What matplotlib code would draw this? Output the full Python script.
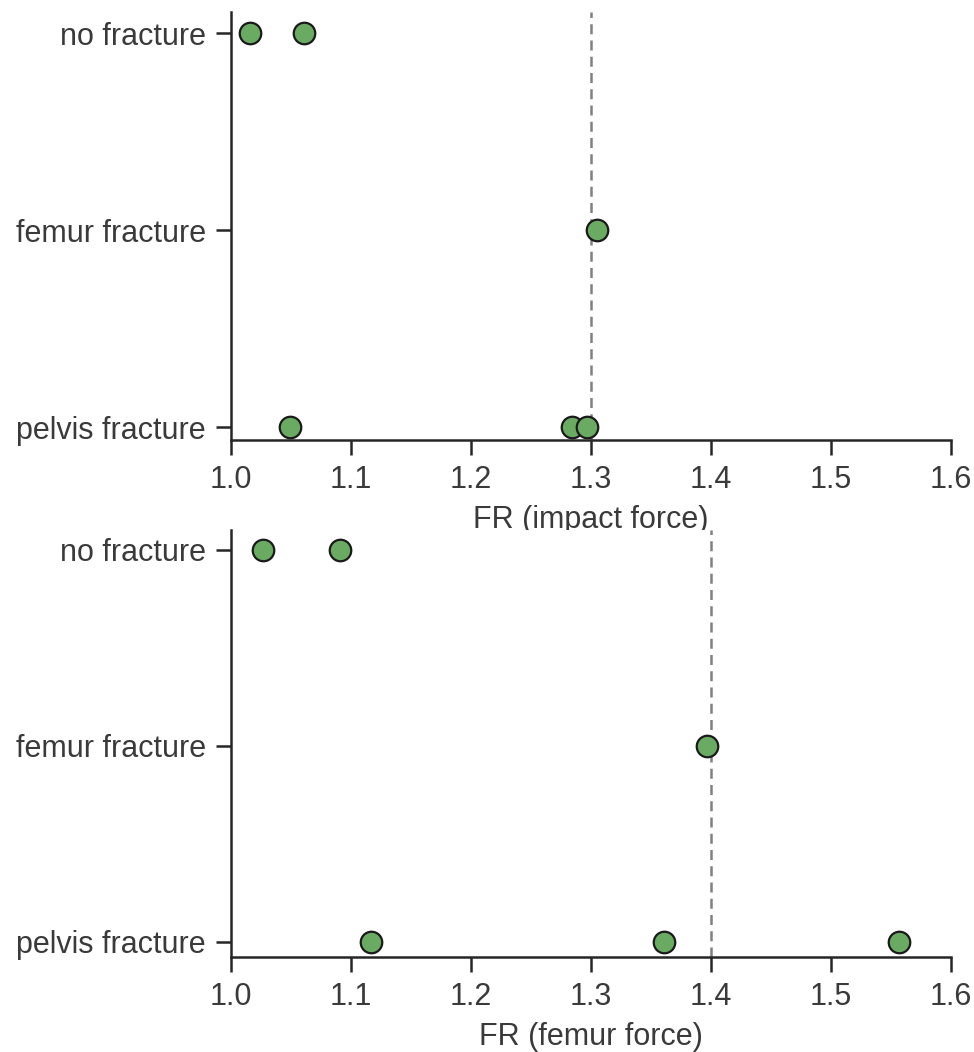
import matplotlib
matplotlib.use("Agg")
import matplotlib.pyplot as plt
import seaborn as sns

sns.set_style("ticks")
plt.rcParams['font.family'] = ['Liberation Sans', 'DejaVu Sans']

categories = ["no fracture", "femur fracture", "pelvis fracture"]

impact_cat = ["no fracture", "no fracture", "femur fracture",
              "pelvis fracture", "pelvis fracture", "pelvis fracture"]
impact_fr = [1.016, 1.061, 1.305, 1.049, 1.284, 1.297]
impact_threshold = 1.30

femur_cat = ["no fracture", "no fracture", "femur fracture",
             "pelvis fracture", "pelvis fracture", "pelvis fracture"]
femur_fr = [1.027, 1.091, 1.397, 1.117, 1.361, 1.557]
femur_threshold = 1.40

xticks = [1.0, 1.1, 1.2, 1.3, 1.4, 1.5, 1.6]

fig = plt.figure(figsize=(9.74, 10.52), dpi=100)
ax1 = fig.add_axes([0.237, 0.5817, 0.739, 0.4069])
ax2 = fig.add_axes([0.237, 0.0903, 0.739, 0.4059])

fs = 22
green = "#6aaa62"
txtc = "#3a3a3a"

def panel(ax, cats, vals, thr, xlabel, ylim):
    ypos = [categories.index(c) for c in cats]
    ax.axvline(thr, color="#808080", linestyle=(0, (4, 2.5)), linewidth=1.8, zorder=1)
    ax.plot(vals, ypos, linestyle="none", marker="o", markersize=15.5,
            markerfacecolor=green, markeredgecolor="#1a1a1a", markeredgewidth=1.6,
            zorder=3, clip_on=False)
    ax.set_yticks(range(len(categories)))
    ax.set_yticklabels(categories)
    ax.set_ylim(*ylim)
    ax.set_xlim(1.0, 1.6)
    ax.set_xticks(xticks)
    ax.set_xticklabels([f"{t:.1f}" for t in xticks])
    ax.set_xlabel(xlabel, fontsize=fs, color=txtc, labelpad=7)
    ax.tick_params(axis="both", labelsize=fs, colors="#262626", labelcolor=txtc,
                   width=1.8, length=11, pad=7)
    for s in ["top", "right"]:
        ax.spines[s].set_visible(False)
    for s in ["left", "bottom"]:
        ax.spines[s].set_linewidth(1.8)
        ax.spines[s].set_color("#262626")

panel(ax1, impact_cat, impact_fr, impact_threshold, "FR (impact force)", (2.066, -0.107))
panel(ax2, femur_cat, femur_fr, femur_threshold, "FR (femur force)", (2.077, -0.10))

fig.savefig("out.png", dpi=100)
